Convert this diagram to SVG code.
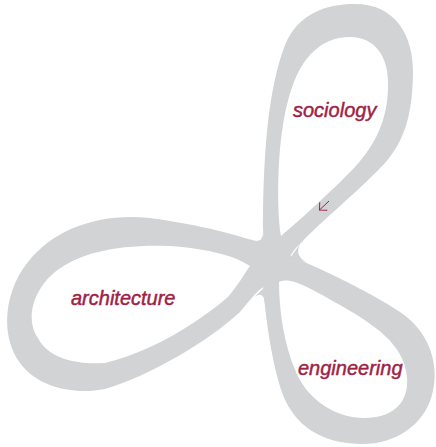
<svg xmlns="http://www.w3.org/2000/svg" width="436" height="447" viewBox="0 0 436 447">
  <defs>
    <style>
      .ring { fill: #d1d3d4; fill-rule: evenodd; stroke: none; }
      .fillet { fill: #d1d3d4; stroke: none; }
      .label { font-family: "Liberation Sans", Arial, sans-serif; font-style: italic; font-size: 20px; fill: #9e2245; stroke: #9e2245; stroke-width: 0.45px; }
      .conn { fill: none; stroke: #9e2245; stroke-width: 1; }
    </style>
    <marker id="arrowhead" markerUnits="userSpaceOnUse" markerWidth="10" markerHeight="10" refX="0" refY="0" orient="auto" overflow="visible">
      <path d="M-5.5,-5.5 L0,0 L-5.5,5.5" class="conn"/>
    </marker>
  </defs>
  <rect width="436" height="447" fill="#ffffff"/>

  <g id="sociology">
    <path class="ring" d="M 274,272 C 266,258 262,240 263,215 C 264,150 268,90 285,45 C 298,14 325,4 355,4 C 395,4 414,35 413,75 C 412,115 405,140 385,163 C 360,190 320,222 300,244 C 293,250 290,256 288,262 Z
      M 281,236 C 277,215 277,160 283,125 C 288,95 296,70 310,55 C 322,42 335,37 350,37 C 375,37 389,57 388,85 C 388,120 375,145 355,167 C 335,188 300,220 281,236 Z"/>
    <text class="label" x="293" y="117">sociology</text>
  </g>

  <g id="architecture">
    <path class="ring" d="M 274,258 L 262,244 C 240,235 200,225 150,218 C 100,213 55,228 28,262 C 5,290 -1,335 20,363 C 38,388 75,395 105,389 C 150,376 210,340 240,312 C 250,300 256,292 262,288 L 274,275 Z
      M 250,266 C 235,256 210,249 170,246 C 120,244 80,252 55,272 C 35,288 24,318 38,338 C 48,358 75,365 105,363 C 150,352 195,325 228,297 C 238,285 245,273 250,266 Z"/>
    <text class="label" x="71" y="305">architecture</text>
  </g>

  <g id="engineering">
    <path class="ring" d="M 268,268 L 290,256 C 320,268 370,292 400,312 C 430,332 440,365 432,395 C 424,425 395,445 360,444 C 320,443 295,425 283,395 C 272,365 266,320 263,287 Z
      M 279,282 C 290,276 310,288 340,305 C 375,325 405,345 407,378 C 409,405 390,418 365,418 C 335,418 308,400 296,372 C 284,345 279,310 279,282 Z"/>
    <text class="label" x="298" y="375">engineering</text>
  </g>

  <g id="center-fillets">
    <path class="fillet" d="M 263,232 Q 263,245 250,239 L 266,250 Z"/>
    <path class="fillet" d="M 303,240 Q 292,254 306,262 L 290,258 Z"/>
    <path class="fillet" d="M 249,302 Q 263,287 265,303 L 266,286 Z"/>
  </g>

  <g id="connectors">
    <path class="conn" d="M 329,201 L 319.5,210" marker-end="url(#arrowhead)"/>
  </g>
</svg>
